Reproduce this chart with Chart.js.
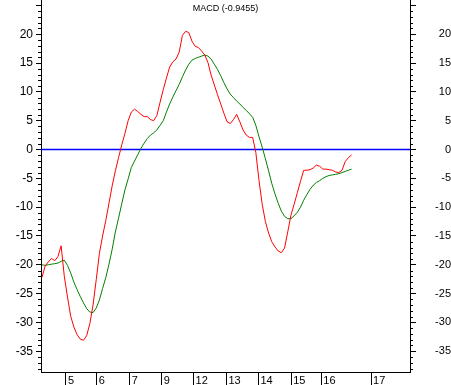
<!DOCTYPE html>
<html>
<head>
<meta charset="utf-8">
<script src="https://cdn.jsdelivr.net/npm/chart.js@4.4.0/dist/chart.umd.min.js"></script>
<style>
  html, body { margin: 0; padding: 0; background: #fff; }
  #wrap { width: 451px; height: 385px; }
</style>
</head>
<body>
<div id="wrap"><canvas id="myChart"></canvas></div>
<script>
// MACD line, one value per bar
var macd = [
  -22.2, -20.2, -19.5, -18.9, -19.3, -18.6, -16.7, -22.0, -25.6, -28.9,
  -30.8, -32.1, -32.9, -33.1, -32.3, -30.2, -27.0, -22.6, -18.0, -15.0,
  -12.3, -9.3, -6.3, -3.7, -1.4, 0.8, 2.8, 5.0, 6.5, 7.0,
  6.6, 6.1, 5.7, 5.7, 5.2, 5.0, 5.9, 8.2, 10.4, 12.4,
  14.3, 15.2, 15.7, 16.9, 19.8, 20.5, 20.3, 18.8, 17.9, 17.7,
  17.1, 16.4, 15.1, 12.9, 11.2, 9.5, 7.9, 6.3, 4.8, 4.5,
  5.2, 6.1, 4.8, 3.4, 2.5, 2.1, 2.1, -0.5, -5.4, -9.5,
  -12.5, -14.5, -16.0, -16.9, -17.6, -17.9, -17.1, -14.3, -11.4, -9.5,
  -7.5, -5.5, -3.6, -3.6, -3.5, -3.2, -2.7, -2.9, -3.4, -3.4,
  -3.5, -3.6, -3.9, -4.0, -3.6, -2.1, -1.4, -0.95
];

// signal line
var signal = [
  -20.0, -20.1, -20.0, -19.9, -19.8, -19.7, -19.4, -19.2, -20.1, -21.4,
  -23.0, -24.3, -25.5, -26.6, -27.6, -28.2, -28.3, -27.5, -26.1, -24.1,
  -22.2, -19.9, -17.3, -14.3, -11.9, -9.4, -7.0, -5.1, -3.1, -2.0,
  -0.9, 0.2, 1.1, 1.9, 2.5, 2.9, 3.4, 4.2, 5.0, 6.5,
  7.9, 9.1, 10.2, 11.3, 12.6, 13.8, 14.8, 15.5, 15.8, 16.0,
  16.2, 16.4, 16.2, 15.7, 14.8, 13.9, 12.8, 11.6, 10.5, 9.6,
  9.0, 8.4, 7.9, 7.3, 6.8, 6.2, 5.6, 4.2, 2.2, 0.4,
  -1.6, -3.7, -5.9, -7.7, -9.3, -10.7, -11.6, -12.0, -12.0, -11.5,
  -10.9, -10.0, -8.8, -7.8, -6.9, -6.2, -5.7, -5.4, -5.0, -4.7,
  -4.5, -4.4, -4.3, -4.2, -4.0, -3.8, -3.6, -3.4
];

// x labels and the bar they sit on
var xLabels = ['5', '6', '7', '9', '12', '13', '14', '15', '16', '17'];
var xTickPos = [7.5, 17.2, 27.5, 37.5, 47.5, 57.8, 67.8, 78.1, 87.5, 103.1];

var yTicks = [-35, -30, -25, -20, -15, -10, -5, 0, 5, 10, 15, 20, 25];
var yMin = -38.6, yMax = 25.94;
var xMin = -0.3, xMax = 115.3;
var zeroLevel = 0;
var lastMacd = -0.9455;

function toPoints(arr) {
  return arr.map(function (v, i) { return { x: i, y: v }; });
}

function noPad(s) {
  s.paddingTop = 0; s.paddingBottom = 0;
  s.paddingLeft = 0; s.paddingRight = 0;
}

// small ticks between the labelled ones, plus the title inside the plot
var extras = {
  id: 'extras',
  afterDraw: function (chart) {
    var ctx = chart.ctx;
    ctx.save();
    ctx.strokeStyle = '#000';
    ctx.lineWidth = 1;
    ['y', 'y2'].forEach(function (id) {
      var s = chart.scales[id];
      for (var v = Math.ceil(yMin); v <= Math.floor(yMax); v++) {
        if (v % 5 === 0) continue;
        var py = Math.round(s.getPixelForValue(v)) + 0.5;
        ctx.beginPath();
        if (s.position === 'left') {
          ctx.moveTo(s.right - 3, py); ctx.lineTo(s.right, py);
        } else {
          ctx.moveTo(s.left, py); ctx.lineTo(s.left + 3, py);
        }
        ctx.stroke();
      }
    });
    var area = chart.chartArea;
    ctx.fillStyle = '#000';
    ctx.font = '9px "Liberation Sans", Arial, sans-serif';
    ctx.textAlign = 'center';
    ctx.textBaseline = 'middle';
    ctx.fillText('MACD (' + lastMacd + ')', (area.left + area.right) / 2, 9);
    ctx.restore();
  }
};

var ctx = document.getElementById('myChart').getContext('2d');
var myChart = new Chart(ctx, {
  type: 'line',
  data: {
    datasets: [{
      label: 'MACD',
      data: toPoints(macd),
      borderColor: '#ff0000',
      borderWidth: 1,
      pointRadius: 0,
      tension: 0
    }, {
      label: 'Signal',
      data: toPoints(signal),
      borderColor: '#008000',
      borderWidth: 1,
      pointRadius: 0,
      tension: 0
    }, {
      label: 'Zero',
      data: [{ x: xMin, y: zeroLevel }, { x: xMax, y: zeroLevel }],
      borderColor: '#0000ff',
      borderWidth: 1.6,
      pointRadius: 0
    }]
  },
  options: {
    animation: false,
    responsive: true,
    maintainAspectRatio: false,
    layout: { padding: 0 },
    scales: {
      x: {
        type: 'linear',
        min: xMin,
        max: xMax,
        afterBuildTicks: function (s) {
          s.ticks = xTickPos.map(function (v) { return { value: v }; });
        },
        afterFit: function (s) { s.height = 13; noPad(s); },
        border: { color: '#000', width: 1 },
        grid: { drawOnChartArea: false, color: '#000', tickLength: 13 },
        ticks: {
          autoSkip: false,
          maxRotation: 0,
          align: 'start',
          labelOffset: 2,
          padding: -11,
          color: '#000',
          font: { family: '"Liberation Sans", Arial, sans-serif', size: 11 },
          callback: function (val, i) { return xLabels[i]; }
        }
      },
      y: {
        position: 'left',
        min: yMin,
        max: yMax,
        afterBuildTicks: function (s) {
          s.ticks = yTicks.map(function (v) { return { value: v }; });
        },
        afterFit: function (s) { s.width = 41; noPad(s); },
        border: { color: '#000', width: 1 },
        grid: { drawOnChartArea: false, tickLength: 5, color: '#000' },
        ticks: {
          padding: 3,
          color: '#000',
          font: { family: '"Liberation Sans", Arial, sans-serif', size: 12 },
          callback: function (v) { return v === 25 ? '' : v; }
        }
      },
      y2: {
        position: 'right',
        min: yMin,
        max: yMax,
        afterBuildTicks: function (s) {
          s.ticks = yTicks.map(function (v) { return { value: v }; });
        },
        afterFit: function (s) { s.width = 41; noPad(s); },
        border: { color: '#000', width: 1 },
        grid: { drawOnChartArea: false, tickLength: 6, color: '#000' },
        ticks: {
          padding: 14,
          crossAlign: 'far',
          color: '#000',
          font: { family: '"Liberation Sans", Arial, sans-serif', size: 11 },
          callback: function (v) { return v === 25 ? '' : v; }
        }
      }
    },
    plugins: {
      legend: { display: false },
      tooltip: { enabled: false },
      title: { display: false }
    }
  },
  plugins: [extras]
});
</script>
</body>
</html>
